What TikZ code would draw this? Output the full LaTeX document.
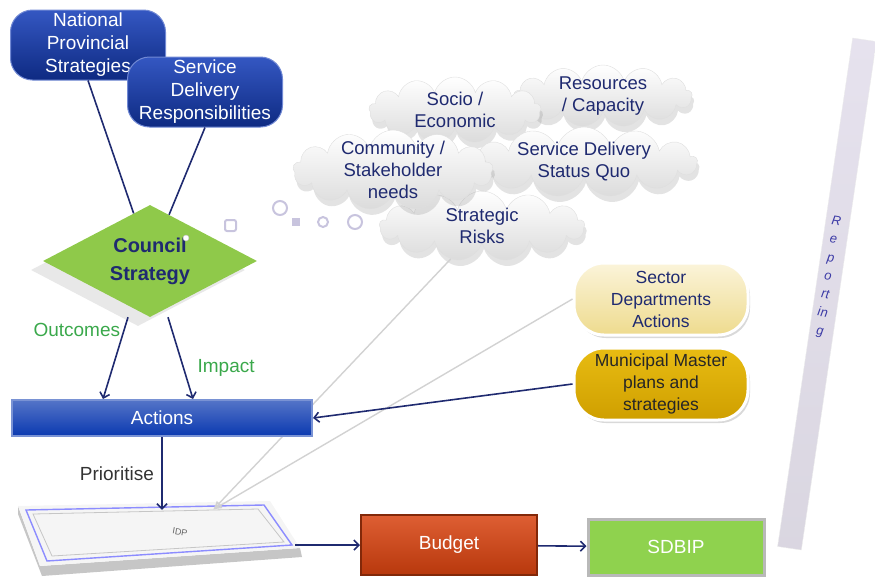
\documentclass[tikz,border=0pt]{standalone}
\usepackage{fontspec}
\setmainfont{Liberation Sans}
\usetikzlibrary{positioning, shapes.geometric, shapes.symbols, arrows, arrows.meta, shadows}

\definecolor{navy}{HTML}{1F2A70}
\definecolor{boxtop}{HTML}{3457C2}
\definecolor{boxbottom}{HTML}{0E2A82}
\definecolor{actblue}{HTML}{0B39B0}
\definecolor{leaf}{HTML}{3AA84B}
\definecolor{diamondgreen}{HTML}{8FC94A}
\definecolor{lav}{HTML}{C8C4DE}
\definecolor{budgetred}{HTML}{D8420F}
\definecolor{sdbipgreen}{HTML}{8FD24E}
\definecolor{sandlight}{HTML}{FBF4DA}
\definecolor{sand}{HTML}{EEDB8E}
\definecolor{gold}{HTML}{E8BC12}
\definecolor{golddark}{HTML}{CF9F00}
\definecolor{barlav}{HTML}{E6E2EE}
\definecolor{repblue}{HTML}{3B3AA6}

\begin{document}
\begin{tikzpicture}[x=1pt, y=-1pt, >={Straight Barb[length=5pt, width=10pt]},
    bigtext/.style={font=\fontsize{19}{23}\selectfont},
    bluebox/.style={bigtext, rounded corners=22pt, top color=boxtop, bottom color=boxbottom, draw=boxtop!70!white, line width=1pt, text=white, align=center, minimum width=155pt, minimum height=70pt, inner sep=1pt},
    strategy/.style={diamond, aspect=1.9, minimum width=214pt, minimum height=112pt, inner sep=0pt, fill=diamondgreen, text=navy, align=center, font=\fontsize{20}{28}\selectfont\bfseries, drop shadow={opacity=0.18, shadow xshift=-12pt, shadow yshift=-9pt}},
    thought/.style={cloud, cloud puffs=13, cloud ignores aspect, font=\fontsize{18.5}{22}\selectfont, text=navy, align=center, top color=white, bottom color=gray!28, draw=gray!25, inner xsep=0pt, inner ysep=-8pt, drop shadow={opacity=0.22, shadow xshift=2pt, shadow yshift=-6pt}},
    pill/.style={font=\fontsize{17.5}{22}\selectfont, rounded corners=30pt, align=center, minimum width=174pt, minimum height=72pt, inner sep=1pt, draw=white, line width=3pt, drop shadow={opacity=0.3, shadow xshift=2pt, shadow yshift=-3pt}},
    actbox/.style={bigtext, text=white, minimum width=300pt, minimum height=36pt, top color=actblue!70!white, bottom color=actblue, draw=actblue!55!white, line width=2pt},
    budgetbox/.style={bigtext, text=white, minimum width=176pt, minimum height=60pt, top color=budgetred!85!white, bottom color=budgetred!85!black, draw=budgetred!60!black, line width=2pt},
    sdbipbox/.style={bigtext, text=white, minimum width=176pt, minimum height=56pt, fill=sdbipgreen, draw=gray!55, line width=3pt},
    repbar/.style={rotate=81.6, minimum width=514pt, minimum height=24pt, top color=barlav, middle color=white, bottom color=barlav!88!gray, draw=gray!15},
    reptext/.style={rotate=-8.4, align=center, text=repblue, font=\fontsize{13}{18.5}\selectfont\itshape},
    link/.style={draw=navy, line width=1.6pt},
    flow/.style={link, ->},
    hint/.style={draw=gray!35, line width=1.4pt, -{Latex[open, length=9pt, width=7pt]}},
    bubble/.style={draw=lav, line width=2pt, fill=white},
    note/.style={bigtext, text=leaf}]

    \useasboundingbox (0, 0) rectangle (875, 576);

    % reporting bar
    \node [repbar] (reporting) at (827, 294) {};
    \node [reptext] (reportinglabel) at (828, 277) {R\\e\\p\\o\\rt\\in\\g};

    % thought bubbles
    \draw [bubble, rounded corners=2pt] (225, 220) rectangle (236, 231);
    \draw [bubble] (280, 208) circle (7pt);
    \draw [bubble, fill=lav] (293, 219) rectangle (299, 225);
    \draw [bubble] (323, 222) circle (5pt);
    \draw [bubble] (355, 222) circle (7pt);

    % clouds
    \node [thought, minimum width=205pt, minimum height=70pt] (risks) at (482, 226) {Strategic\\Risks};
    \node [thought, minimum width=178pt, minimum height=62pt] (resources) at (603, 96) {Resources\\/ Capacity};
    \node [thought, minimum width=172pt, minimum height=66pt] (socio) at (455, 110) {Socio /\\Economic};
    \node [thought, minimum width=226pt, minimum height=70pt] (status) at (584, 162) {Service Delivery\\Status Quo};
    \node [thought, minimum width=200pt, minimum height=80pt, inner ysep=-18pt] (community) at (393, 170) {Community /\\Stakeholder\\needs};

    % side inputs
    \node [pill, top color=sandlight, bottom color=sand, text=navy] (sector) at (661, 299) {Sector\\Departments\\Actions};
    \node [pill, top color=gold, bottom color=golddark, text=black!85] (municipal) at (661, 384) {Municipal Master\\plans and\\strategies};

    % IDP tray
    \fill [gray!45] (18, 506) -- (18, 514) -- (42, 576) -- (302, 557) -- (300, 548) -- (40, 566) -- cycle;
    \fill [gray!8] (18, 506) -- (270, 501) -- (300, 548) -- (40, 566) -- cycle;
    \draw [blue!45!white, line width=1.4pt] (26, 510) -- (264, 505) -- (292, 545) -- (47, 561) -- cycle;
    \draw [gray!45, line width=0.8pt] (33, 514) -- (258, 509) -- (284, 542) -- (52, 556) -- cycle;
    \node [minimum width=270pt, minimum height=44pt] (idp) at (160, 532) {};
    \node [rotate=-10, font=\fontsize{9}{10}\selectfont, text=black!60] (idplabel) at (180, 532) {IDP};
    \coordinate (idpin) at ([xshift=53pt]idp.north);

    \draw [hint] (risks) -- (idpin);
    \draw [hint] (sector.west) -- (idpin);

    % strategy
    \node [bluebox] (nps) at (88, 45) {National\\Provincial\\Strategies};
    \node [bluebox] (sdr) at (205, 92) {Service\\Delivery\\Responsibilities};
    \node [strategy] (council) at (150, 261) {Council\\Strategy};
    \draw [gray!50, fill=white] (186, 238) circle (3pt);

    \node [actbox] (actions) at (162, 418) {Actions};
    \node [budgetbox] (budget) at (449, 545) {Budget};
    \node [sdbipbox] (sdbip) at (676, 547) {SDBIP};

    \draw [link] (nps.south) -- (council);
    \draw [link] (sdr.south) -- (council);
    \draw [flow] ([xshift=-22pt]council.south) -- ([xshift=-59pt]actions.north) node [pos=0.15, left, note] (outcomes) {Outcomes};
    \draw [flow] ([xshift=18pt]council.south) -- ([xshift=31pt]actions.north) node [pos=0.62, right=10pt, note] (impact) {Impact};
    \draw [flow] (actions.south) -- (actions.south |- idp.north) node [midway, left=4pt, bigtext, text=black!80] (prioritise) {Prioritise};
    \draw [flow] (municipal.west) -- (actions.east);
    \draw [flow] (budget.west -| idp.east) -- (budget.west);
    \draw [flow] (budget) -- (sdbip);
\end{tikzpicture}
\end{document}
